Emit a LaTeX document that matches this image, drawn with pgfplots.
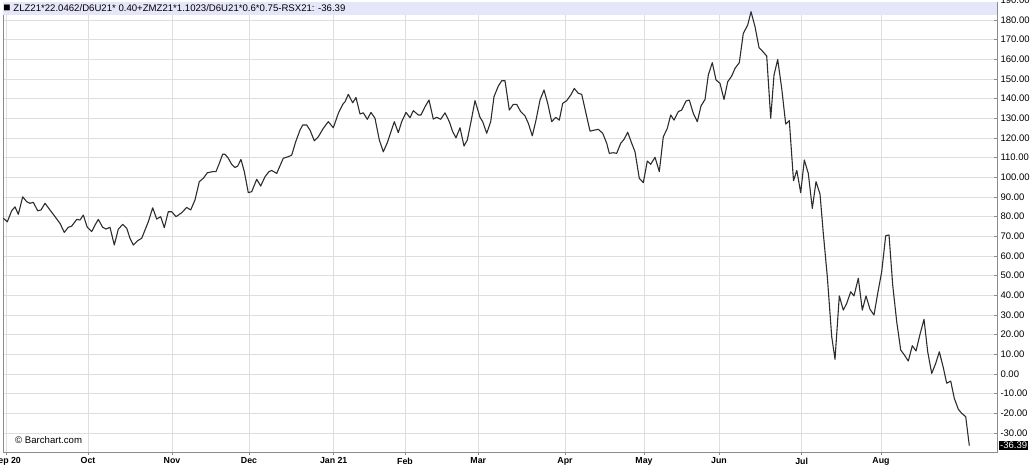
\documentclass[border=0pt]{standalone}
\usepackage{pgfplots}
\pgfplotsset{compat=1.18}
\usepackage{fontspec}
\setmainfont{Liberation Sans}
\definecolor{gridc}{RGB}{222,222,222}
\definecolor{framec}{RGB}{140,140,140}
\definecolor{bandc}{RGB}{230,230,250}
\definecolor{linec}{RGB}{45,45,45}
\begin{document}
\begin{tikzpicture}
\begin{axis}[
 at={(0pt,0pt)}, anchor=south west,
 scale only axis, width=994pt, height=450pt,
 xmin=3, xmax=997, ymin=-39.66, ymax=189.15,
 axis line style={draw=framec, line width=0.8pt},
 grid=major, major grid style={draw=gridc, line width=0.8pt},
 xtick={6.7,88,172,249,333.7,405,478.3,565,644,719,801.7,881},
 xticklabels={Sep 20,Oct,Nov,Dec,Jan 21,Feb,Mar,Apr,May,Jun,Jul,Aug},
 xticklabel style={font=\fontsize{8.8}{10}\selectfont\bfseries, text=black, inner sep=2pt},
 ytick={-30,-20,...,180},
 yticklabel pos=right, ytick pos=right, xtick pos=bottom,
 xtick align=outside, ytick align=inside,
 major tick length=3.5pt,
 tick style={draw=framec, line width=0.8pt},
 yticklabel style={font=\fontsize{9.5}{10}\selectfont, text=black, /pgf/number format/.cd, fixed, fixed zerofill, precision=2, assume math mode=true},
]
\fill[bandc] (rel axis cs:0,1) rectangle (rel axis cs:1,{1-13/450});
\node[anchor=west, inner sep=0pt, font=\fontsize{9.6}{10}\selectfont] at (rel axis cs:0,1) [xshift=0.3pt, yshift=-6.5pt] {{\fontsize{12}{10}\selectfont ■}\ ZLZ21*22.0462/D6U21* 0.40+ZMZ21*1.1023/D6U21*0.6*0.75-RSX21: -36.39};
\node[anchor=west, inner sep=0pt, font=\fontsize{9.6}{10}\selectfont] at (rel axis cs:0,0) [xshift=12pt, yshift=11.5pt] {© Barchart.com};
\addplot[linec, line width=1.1pt, mark=none, line join=round] coordinates {
(3.3,79.2) (7.3,77.4) (11.7,83.0) (15.0,85.0) (18.3,81.2) (22.7,90.1) (26.7,87.6) (30.0,86.8)
(33.3,87.3) (37.7,83.0) (41.0,83.4) (45.0,86.8) (50.0,83.4) (55.0,80.0) (60.0,76.6) (64.3,72.0)
(68.3,74.6) (71.7,75.2) (76.7,78.6) (80.0,78.3) (83.3,80.8) (87.3,74.6) (91.7,72.4) (95.0,75.7)
(98.3,78.6) (102.7,74.6) (106.0,73.7) (110.0,74.6) (114.3,65.6) (118.3,73.6) (122.7,76.1) (126.7,74.1)
(130.0,69.0) (133.3,65.6) (137.7,67.8) (141.7,69.0) (148.3,77.4) (152.7,84.5) (156.7,78.8) (160.7,80.0)
(164.3,74.4) (168.3,82.5) (171.7,82.5) (176.0,80.0) (181.7,82.0) (186.7,84.7) (190.7,83.4) (195.0,88.5)
(199.3,97.8) (203.3,99.5) (207.3,102.3) (212.7,102.9) (216.0,102.9) (219.3,107.1) (222.7,111.8) (225.0,111.7)
(228.3,109.7) (231.7,106.6) (235.0,105.0) (237.7,105.7) (241.0,109.1) (244.3,102.9) (248.3,92.2) (251.7,92.7)
(256.7,99.0) (260.7,95.6) (265.0,100.3) (269.0,102.9) (271.7,103.5) (276.7,102.0) (283.3,109.7) (288.3,110.5)
(291.7,111.3) (295.7,118.1) (300.0,124.0) (302.7,126.6) (306.7,126.6) (310.0,124.0) (314.3,118.6) (318.3,120.6)
(323.3,124.9) (328.3,128.3) (333.3,125.2) (338.3,132.5) (342.7,137.1) (345.0,138.4) (348.3,142.2) (352.7,137.9)
(356.0,140.6) (360.0,132.2) (363.3,132.8) (367.3,129.5) (371.0,133.0) (375.0,130.0) (379.3,119.0) (383.3,113.0)
(387.3,117.6) (394.3,128.3) (398.3,122.7) (401.7,128.3) (406.0,133.0) (410.0,130.3) (413.3,133.9) (418.3,131.7)
(421.0,131.7) (425.0,135.9) (429.0,139.3) (433.3,129.6) (436.7,130.5) (440.7,129.5) (445.0,132.8) (449.3,128.3)
(452.7,123.2) (456.0,120.1) (460.0,125.2) (464.0,115.9) (467.3,119.0) (471.0,128.3) (475.0,139.0) (480.0,130.5)
(482.7,128.3) (486.7,122.4) (490.7,128.3) (494.0,141.0) (498.3,146.4) (501.7,149.1) (505.0,149.1) (509.3,134.2)
(513.3,137.1) (516.7,137.1) (520.7,133.4) (525.0,131.2) (528.3,127.5) (532.3,121.1) (536.0,129.1) (540.0,139.3)
(544.0,144.4) (547.7,137.6) (551.7,128.3) (555.7,130.5) (559.3,129.1) (562.7,137.6) (566.7,139.0) (570.7,141.8)
(574.3,145.2) (578.3,142.7) (581.7,142.2) (586.0,132.5) (590.0,123.5) (594.3,124.0) (598.3,124.4) (602.7,122.4)
(606.7,117.3) (609.3,112.2) (613.3,112.5) (616.7,112.2) (620.7,117.3) (624.0,119.3) (627.7,122.9) (631.7,117.3)
(635.0,113.0) (639.3,99.5) (643.3,97.3) (647.3,108.3) (650.7,106.6) (655.0,110.2) (659.3,102.9) (663.3,120.6)
(667.3,124.9) (670.7,131.7) (674.0,129.1) (678.3,133.4) (681.7,134.2) (686.0,138.8) (689.3,139.3) (693.3,132.5)
(697.3,128.3) (701.0,136.3) (705.0,139.6) (708.3,152.0) (712.3,158.3) (716.0,149.5) (720.0,147.8) (724.0,139.6)
(727.7,148.6) (731.7,151.5) (735.0,155.4) (739.3,158.3) (743.3,173.2) (747.7,177.4) (751.0,184.2) (755.0,176.6)
(759.0,166.0) (762.7,164.0) (766.7,161.7) (770.7,130.0) (774.0,152.0) (777.7,159.9) (781.7,145.2) (785.7,127.1)
(789.3,128.8) (793.5,98.3) (796.8,103.5) (800.7,92.2) (804.3,108.8) (808.3,102.0) (812.3,84.2) (816.0,97.8)
(820.0,91.5) (823.3,71.5) (827.3,49.5) (831.7,19.0) (835.0,7.5) (839.3,39.7) (843.3,32.5) (846.7,35.9)
(850.7,41.8) (854.0,39.7) (858.3,48.7) (862.3,32.5) (866.0,39.7) (870.0,32.9) (874.0,30.0) (877.7,41.0)
(881.7,52.0) (885.7,70.3) (889.0,70.7) (892.7,45.2) (896.7,26.6) (900.7,12.2) (904.3,9.7) (908.3,6.6)
(912.3,14.4) (916.0,11.7) (920.0,20.2) (924.0,27.8) (927.7,11.3) (931.7,0.3) (935.7,5.4) (939.3,11.3)
(943.3,3.2) (946.7,-4.7) (950.7,-3.6) (954.3,-12.4) (958.3,-17.9) (961.7,-20.0) (965.7,-21.7) (969.3,-36.39)
};
\coordinate (lastv) at (axis cs:997,-36.39);
\coordinate (top190) at (axis cs:997,190);
\end{axis}
\node[anchor=west, fill=black, text=white, inner sep=1pt, font=\fontsize{9.5}{10}\selectfont] at (lastv) [xshift=2pt] {-36.39};
\node[anchor=west, inner sep=0pt, font=\fontsize{9.5}{10}\selectfont] at (top190) [xshift=3.3pt] {190.00};
\pgfresetboundingbox
\path[use as bounding box] (-3pt,-21pt) rectangle (1032pt,452pt);
\end{tikzpicture}
\end{document}
